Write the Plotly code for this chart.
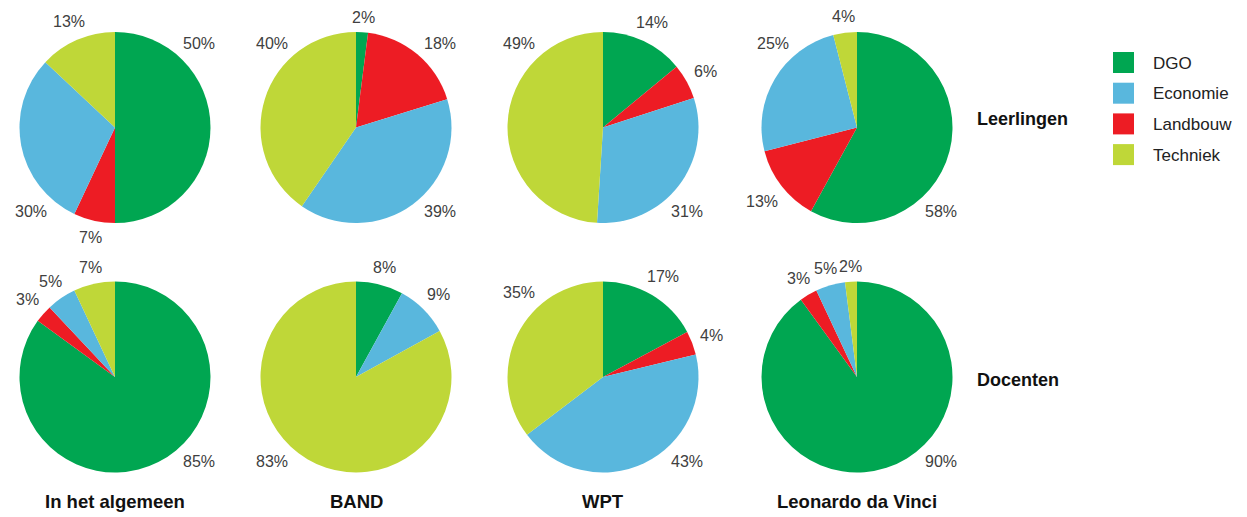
import math
import plotly.graph_objects as go

# ---- data ----
categories = ["DGO", "Landbouw", "Economie", "Techniek"]   # clockwise slice order
legend_order = ["DGO", "Economie", "Landbouw", "Techniek"]
groups = ["In het algemeen", "BAND", "WPT", "Leonardo da Vinci"]
rows = ["Leerlingen", "Docenten"]

leerlingen_algemeen = [50, 7, 30, 13]
leerlingen_band = [2, 18, 39, 40]
leerlingen_wpt = [14, 6, 31, 49]
leerlingen_leonardo = [58, 13, 25, 4]

docenten_algemeen = [85, 3, 5, 7]
docenten_band = [8, 0, 9, 83]
docenten_wpt = [17, 4, 43, 35]
docenten_leonardo = [90, 3, 5, 2]

colors = {"DGO": "#00A651", "Economie": "#59B7DD", "Landbouw": "#ED1C24", "Techniek": "#BFD738"}

# ---- layout constants (screen pixels) ----
OFF = 8                      # page body margin
W, H = 1247 - OFF, 517 - OFF
col_cx = [115, 356, 603, 857]
row_cy = [127.5, 377]
R = 95.5
FONT = "Liberation Sans, Arial, Helvetica, sans-serif"
LABEL_SIZE = 16


def px_x(x):
    return (x - OFF) / W


def px_y(y):
    return 1 - (y - OFF) / H


def label_layout(vals, cx, cy):
    """Place each percentage label just outside its slice (angles from the data)."""
    total = float(sum(vals))
    start = 0.0
    out = []
    for v in vals:
        span = v / total * 360.0
        a0, a1 = start, start + span
        start = a1
        if v == 0:
            continue
        mid = (a0 + a1) / 2
        diags = [d for d in (45, 135, 225, 315) if a0 + 17 < d < a1 - 17]
        ang = min(diags, key=lambda d: abs(d - mid)) if diags else mid
        txt = f"{v}%"
        hw = (0.556 * (len(txt) - 1) + 0.889) * LABEL_SIZE / 2
        hh = 6.5
        ux, uy = math.sin(math.radians(ang)), -math.cos(math.radians(ang))
        dist = R + 8 + hw * abs(ux) + hh * abs(uy)
        out.append((txt, cx + ux * dist, cy + uy * dist))
    return out


data_rows = [
    [leerlingen_algemeen, leerlingen_band, leerlingen_wpt, leerlingen_leonardo],
    [docenten_algemeen, docenten_band, docenten_wpt, docenten_leonardo],
]

fig = go.Figure()
annotations = []
shapes = []

for ri, row_vals in enumerate(data_rows):
    for ci, vals in enumerate(row_vals):
        cx, cy = col_cx[ci], row_cy[ri]
        fig.add_trace(go.Pie(
            labels=categories,
            values=vals,
            textinfo="none",
            sort=False,
            direction="clockwise",
            rotation=0,
            automargin=False,
            marker=dict(colors=[colors[c] for c in categories], line=dict(width=0)),
            domain=dict(x=[px_x(cx - R), px_x(cx + R)], y=[px_y(cy + R), px_y(cy - R)]),
            showlegend=False,
            hoverinfo="label+value",
        ))
        for txt, lx, ly in label_layout(vals, cx, cy):
            annotations.append(dict(
                x=px_x(lx), y=px_y(ly), xref="paper", yref="paper",
                text=txt, showarrow=False, xanchor="center", yanchor="middle",
                font=dict(family=FONT, size=LABEL_SIZE, color="#404040"),
            ))

# column titles
for ci, g in enumerate(groups):
    annotations.append(dict(
        x=px_x(col_cx[ci]), y=px_y(501.5), xref="paper", yref="paper",
        text=f"<b>{g}</b>", showarrow=False, xanchor="center", yanchor="middle",
        font=dict(family=FONT, size=18.5, color="#111111"),
    ))
# row titles
for ri, r in enumerate(rows):
    annotations.append(dict(
        x=px_x(975), y=px_y([119, 380][ri]), xref="paper", yref="paper",
        text=f"<b>{r}</b>", showarrow=False, xanchor="left", yanchor="middle",
        font=dict(family=FONT, size=18, color="#111111"),
    ))
# legend
for i, name in enumerate(legend_order):
    top = 52 + i * 30.7
    shapes.append(dict(
        type="rect", xref="paper", yref="paper",
        x0=px_x(1113), x1=px_x(1134), y0=px_y(top + 21), y1=px_y(top),
        fillcolor=colors[name], line=dict(width=0),
    ))
    annotations.append(dict(
        x=px_x(1151), y=px_y(top + 11), xref="paper", yref="paper",
        text=name, showarrow=False, xanchor="left", yanchor="middle",
        font=dict(family=FONT, size=17, color="#222222"),
    ))

fig.update_layout(
    width=W, height=H,
    margin=dict(l=0, r=0, t=0, b=0, autoexpand=False),
    paper_bgcolor="white", plot_bgcolor="white",
    showlegend=False,
    annotations=annotations,
    shapes=shapes,
)

fig.write_html("out.html")
